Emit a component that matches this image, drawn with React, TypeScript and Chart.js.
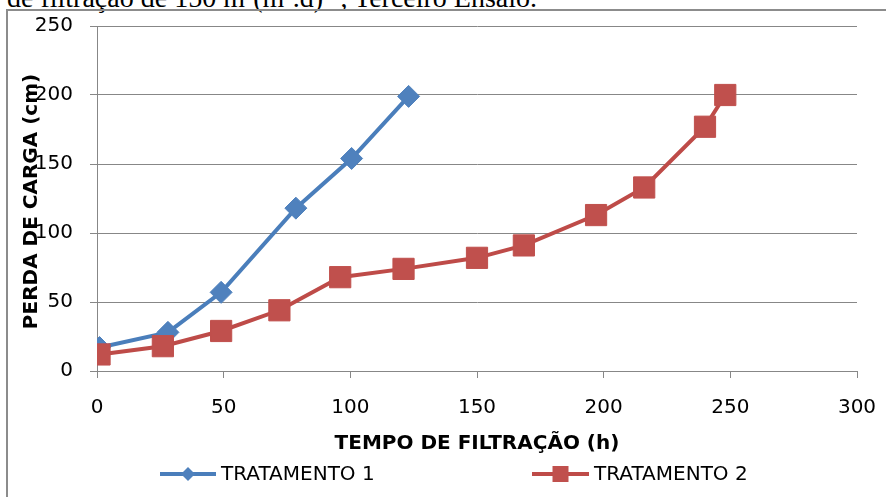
import React, { useEffect, useRef } from "react";
import { Chart, registerables } from "chart.js";

Chart.register(...registerables);

const captionText = "de filtração de 150 m³(m².d)⁻¹, Terceiro Ensaio.";
const xTitle = "TEMPO DE FILTRAÇÃO (h)";
const yTitle = "PERDA DE CARGA (cm)";

const t1Label = "TRATAMENTO 1";
const t1Hours = [1, 28, 49, 78.5, 100.5, 123];
const t1Loss = [17, 28, 57, 118, 154, 199];

const t2Label = "TRATAMENTO 2";
const t2Hours = [1, 26, 49, 72, 96, 121, 150, 168.5, 197, 216, 240, 248];
const t2Loss = [12, 18, 29, 44, 68, 74, 82, 91, 113, 133, 177, 200];

const xMin = 0, xMax = 300, xStep = 50;
const yMin = 0, yMax = 250, yStep = 50;

const BLUE_LINE = "#4A7EBB";
const BLUE_MARK = "#4F81BD";
const RED_LINE = "#BE4B48";
const RED_MARK = "#C0504D";
const GRID = "#878787";

const titlesAndLegend = {
  id: "titlesAndLegend",
  afterDraw(chart: any) {
    const ctx = chart.ctx as CanvasRenderingContext2D;
    const area = chart.chartArea;
    ctx.save();
    ctx.fillStyle = "#000";
    // x title
    ctx.font = "bold 20px 'DejaVu Sans'";
    ctx.textAlign = "center";
    ctx.textBaseline = "alphabetic";
    ctx.fillText(xTitle, (area.left + area.right) / 2, 449);
    // y title
    ctx.save();
    ctx.translate(37, (area.top + area.bottom) / 2 + 3);
    ctx.rotate(-Math.PI / 2);
    ctx.fillText(yTitle, 0, 0);
    ctx.restore();

    // legend
    const ly = 474;
    const items = [
      { ds: chart.data.datasets[0], x0: 160, x1: 216, text: 221 },
      { ds: chart.data.datasets[1], x0: 532, x1: 589, text: 594 },
    ];
    ctx.font = "20px 'DejaVu Sans'";
    ctx.textAlign = "left";
    ctx.textBaseline = "middle";
    for (const it of items) {
      ctx.strokeStyle = it.ds.borderColor;
      ctx.lineWidth = 4;
      ctx.beginPath();
      ctx.moveTo(it.x0, ly);
      ctx.lineTo(it.x1, ly);
      ctx.stroke();
      const cx = (it.x0 + it.x1) / 2;
      ctx.fillStyle = it.ds.pointBackgroundColor;
      ctx.beginPath();
      if (it.ds.pointStyle === "rectRot") {
        const r = 7;
        ctx.moveTo(cx, ly - r);
        ctx.lineTo(cx + r, ly);
        ctx.lineTo(cx, ly + r);
        ctx.lineTo(cx - r, ly);
        ctx.closePath();
      } else {
        const s = 8;
        ctx.rect(cx - s, ly - s, 2 * s, 2 * s);
      }
      ctx.fill();
      ctx.fillStyle = "#000";
      ctx.fillText(it.ds.label, it.text, ly + 1);
    }
    ctx.restore();
  },
};

export default function App() {
  const ref = useRef<HTMLCanvasElement | null>(null);

  useEffect(() => {
    if (!ref.current) return;
    const chart = new Chart(ref.current, {
      type: "line",
      data: {
        datasets: [
          {
            label: t1Label,
            data: t1Hours.map((x, i) => ({ x, y: t1Loss[i] })),
            borderColor: BLUE_LINE,
            backgroundColor: BLUE_MARK,
            pointBackgroundColor: BLUE_MARK,
            pointBorderColor: BLUE_MARK,
            pointStyle: "rectRot",
            pointRadius: 11,
            pointBorderWidth: 1,
            borderWidth: 4,
            order: 1,
          },
          {
            label: t2Label,
            data: t2Hours.map((x, i) => ({ x, y: t2Loss[i] })),
            borderColor: RED_LINE,
            backgroundColor: RED_MARK,
            pointBackgroundColor: RED_MARK,
            pointBorderColor: RED_MARK,
            pointStyle: "rect",
            pointRadius: 15,
            pointBorderWidth: 1,
            borderWidth: 4,
            order: 0,
          },
        ],
      } as any,
      options: {
        animation: false,
        responsive: false,
        devicePixelRatio: 1,
        layout: { padding: { left: 0, right: 29, top: 26, bottom: 0 } },
        plugins: { legend: { display: false }, tooltip: { enabled: false } },
        scales: {
          x: {
            type: "linear",
            min: xMin,
            max: xMax,
            afterFit: (s: any) => {
              s.height = 126;
              s.paddingLeft = 0;
              s.paddingRight = 0;
            },
            ticks: {
              stepSize: xStep,
              color: "#000",
              font: { family: "'DejaVu Sans'", size: 20 },
              padding: 18,
              maxRotation: 0,
            },
            grid: { drawOnChartArea: false, color: GRID, tickLength: 7, lineWidth: 1 },
            border: { color: GRID, width: 1 },
          },
          y: {
            type: "linear",
            min: yMin,
            max: yMax,
            afterFit: (s: any) => {
              s.width = 97;
              s.paddingTop = 0;
              s.paddingBottom = 0;
            },
            ticks: {
              stepSize: yStep,
              color: "#000",
              font: { family: "'DejaVu Sans'", size: 20 },
              padding: 17,
            },
            grid: { color: GRID, tickLength: 7, lineWidth: 1 },
            border: { color: GRID, width: 1 },
          },
        },
      } as any,
      plugins: [titlesAndLegend],
    });
    return () => chart.destroy();
  }, []);

  return (
    <div style={{ position: "absolute", left: 0, top: 0, width: 886, height: 497, overflow: "hidden", background: "#fff" }}>
      <div
        style={{
          position: "absolute",
          left: 7,
          top: -16.5,
          fontFamily: "'Liberation Serif', serif",
          fontSize: 28,
          lineHeight: "28px",
          whiteSpace: "nowrap",
          color: "#000",
        }}
      >
        {captionText}
      </div>
      <div
        style={{
          position: "absolute",
          left: 6,
          top: 9,
          width: 900,
          height: 500,
          borderTop: "2px solid #8c8c8c",
          borderLeft: "2px solid #8c8c8c",
        }}
      />
      <canvas ref={ref} width={886} height={497} style={{ position: "absolute", left: 0, top: 0, width: 886, height: 497 }} />
    </div>
  );
}
